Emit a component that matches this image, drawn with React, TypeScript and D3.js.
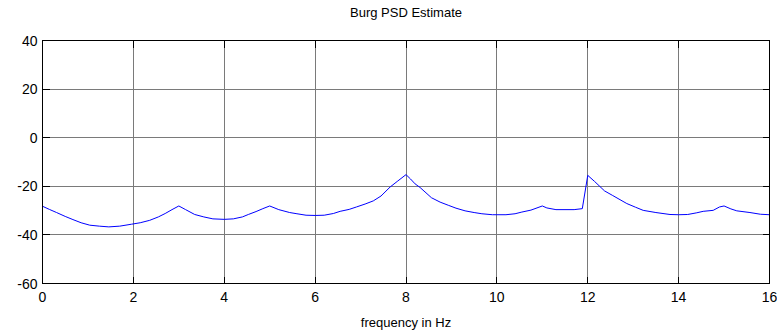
import React from "react";
import * as d3 from "d3";

const freqs = [0, 0.15, 0.31, 0.5, 0.67, 0.85, 1.04, 1.25, 1.46, 1.7, 1.96, 2.15, 2.36, 2.55, 2.7, 2.85, 3.0, 3.15, 3.35, 3.55, 3.75, 4.0, 4.2, 4.4, 4.53, 4.7, 4.85, 5.0, 5.2, 5.44, 5.6, 5.8, 6.0, 6.2, 6.4, 6.55, 6.75, 6.91, 7.1, 7.28, 7.45, 7.65, 7.82, 8.0, 8.1, 8.2, 8.31, 8.56, 8.75, 8.93, 9.1, 9.3, 9.5, 9.67, 9.9, 10.2, 10.4, 10.55, 10.75, 11.0, 11.1, 11.3, 11.7, 11.88, 12.0, 12.15, 12.37, 12.55, 12.86, 13.05, 13.22, 13.5, 13.81, 14.0, 14.2, 14.4, 14.54, 14.76, 14.9, 15.0, 15.15, 15.28, 15.57, 15.8, 16.0];
const psd = [-28.2, -29.5, -30.8, -32.4, -33.7, -35.0, -36.0, -36.4, -36.7, -36.4, -35.6, -35.0, -34.0, -32.6, -31.2, -29.6, -28.1, -29.6, -31.6, -32.6, -33.4, -33.6, -33.4, -32.6, -31.6, -30.4, -29.2, -28.1, -29.6, -30.8, -31.3, -31.9, -32.0, -31.9, -31.2, -30.3, -29.5, -28.5, -27.3, -26.0, -24.0, -20.3, -17.8, -15.2, -17.0, -19.0, -20.5, -24.7, -26.5, -27.8, -29.0, -30.1, -30.8, -31.3, -31.7, -31.7, -31.3, -30.6, -29.8, -28.1, -28.9, -29.6, -29.6, -29.2, -15.5, -18.0, -21.9, -23.8, -27.1, -28.6, -29.9, -30.8, -31.6, -31.7, -31.6, -30.9, -30.3, -29.9, -28.5, -28.1, -29.3, -30.1, -30.8, -31.5, -31.7];
const xTicks = [0, 2, 4, 6, 8, 10, 12, 14, 16];
const yTicks = [-60, -40, -20, 0, 20, 40];
const title = "Burg PSD Estimate";
const xLabel = "frequency in Hz";

export default function App() {
  const W = 777, H = 333;
  const left = 42.5, right = 769.5, top = 40.5, bottom = 283.5;
  const x = d3.scaleLinear().domain([0, 16]).range([left, right]);
  const y = d3.scaleLinear().domain([-60, 40]).range([bottom, top]);
  const line = d3.line<number>().x((_, i) => x(freqs[i])).y((d) => y(d));
  const font = "Liberation Sans, Arial, sans-serif";
  const tl = 7;
  return (
    <svg width={W} height={H} style={{ position: "absolute", left: 0, top: 0, background: "#fff" }} fontFamily={font}>
      <rect x={0} y={0} width={W} height={H} fill="#fff" />
      <g stroke="#7a7a7a" strokeWidth={1} shapeRendering="crispEdges">
        {xTicks.slice(1, -1).map((t) => (
          <line key={"gx" + t} x1={x(t)} x2={x(t)} y1={top} y2={bottom} />
        ))}
        {yTicks.slice(1, -1).map((t) => (
          <line key={"gy" + t} x1={left} x2={right} y1={y(t)} y2={y(t)} />
        ))}
      </g>
      <g stroke="#000" strokeWidth={1} shapeRendering="crispEdges">
        {xTicks.map((t) => (
          <g key={"tx" + t}>
            <line x1={x(t)} x2={x(t)} y1={bottom} y2={bottom - tl} />
            <line x1={x(t)} x2={x(t)} y1={top} y2={top + tl} />
          </g>
        ))}
        {yTicks.map((t) => (
          <g key={"ty" + t}>
            <line x1={left} x2={left + tl} y1={y(t)} y2={y(t)} />
            <line x1={right} x2={right - tl} y1={y(t)} y2={y(t)} />
          </g>
        ))}
      </g>
      <path d={line(psd) || ""} fill="none" stroke="#0000ff" strokeWidth={1} />
      <rect x={left} y={top} width={right - left} height={bottom - top} fill="none" stroke="#000" strokeWidth={1} shapeRendering="crispEdges" />
      <g fontSize={14} fill="#000">
        {xTicks.map((t) => (
          <text key={"lx" + t} x={x(t)} y={bottom + 18} textAnchor="middle">{t}</text>
        ))}
        {yTicks.map((t) => (
          <text key={"ly" + t} x={left - 5} y={y(t) + 5} textAnchor="end">{t}</text>
        ))}
      </g>
      <g fontSize={13} fill="#000">
        <text x={(left + right) / 2} y={327} textAnchor="middle">{xLabel}</text>
        <text x={(left + right) / 2} y={17} textAnchor="middle">{title}</text>
      </g>
    </svg>
  );
}
